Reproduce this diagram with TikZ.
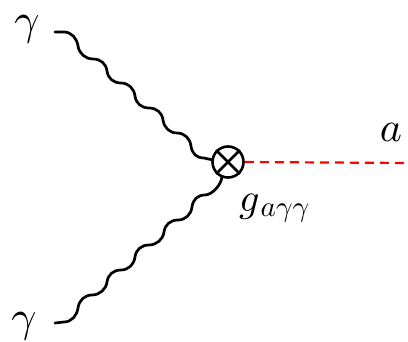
\documentclass[tikz,border=0pt]{standalone}
\usepackage{graphicx}
\usetikzlibrary{calc}
\begin{document}
\begin{tikzpicture}[x=1pt,y=-1pt,
  photon/.style={line width=2.7pt, line join=round, line cap=round},
  vertexnode/.style={circle, draw, line width=2.6pt, minimum size=31pt, inner sep=0pt},
  axion/.style={red, line width=2.2pt, dash pattern=on 9pt off 6pt},
  lbl/.style={inner sep=0pt}]
\useasboundingbox (0,0) rectangle (408,342);
\node[vertexnode] (v) at (228,162) {};
\draw[line width=2.6pt] (v.45) -- (v.225) (v.135) -- (v.315);
\node[lbl, anchor=base] (ga) at (27,35) {\scalebox{4.4}{$\gamma$}};
\node[lbl, anchor=base] (gb) at (24,332) {\scalebox{4.4}{$\gamma$}};
\node[lbl, anchor=base] (la) at (391,142) {\scalebox{4.2}{$a$}};
\node[lbl, anchor=base west] (lg) at (239,212)
  {\scalebox{4}{$g$}\kern1pt\raisebox{-5pt}{\scalebox{2.9}{$a\gamma\gamma$}}};
\coordinate (s1) at (55,32);
\coordinate (s2) at (55,323);
\coordinate (e) at (408,163);
% top photon
\draw[photon] (s1) -- (64,32)
  .. controls +(7.5,0) and +(-1,-7.5) .. (78,46)
  .. controls +(1,7.5) and +(-7.5,0) .. (93,59)
  .. controls +(7.5,0) and +(-1,-7.5) .. (107,71)
  .. controls +(1,7.5) and +(-7.5,0) .. (121,83)
  .. controls +(7.5,0) and +(-1,-7.5) .. (135,96)
  .. controls +(1,7.5) and +(-7.5,0) .. (149,108)
  .. controls +(7.5,0) and +(-1,-7.5) .. (163,120)
  .. controls +(1,7.5) and +(-7.5,0) .. (177,133)
  .. controls +(7.5,0) and +(-1,-7.5) .. (191,146)
  .. controls +(1,7.5) and +(-7.5,0) .. (204,158)
  -- (v.172);
% bottom photon
\draw[photon] (s2) -- (64,322)
  .. controls +(7.5,0) and +(-1,7.5) .. (78,308)
  .. controls +(1,-7.5) and +(-7.5,0) .. (92,295)
  .. controls +(7.5,0) and +(-1,7.5) .. (107,282)
  .. controls +(1,-7.5) and +(-7.5,0) .. (121,270)
  .. controls +(7.5,0) and +(-1,7.5) .. (135,257)
  .. controls +(1,-7.5) and +(-7.5,0) .. (149,245)
  .. controls +(7.5,0) and +(-1,7.5) .. (164,232)
  .. controls +(1,-7.5) and +(-7.5,0) .. (178,220)
  .. controls +(7.5,0) and +(-1,7.5) .. (192,207)
  .. controls +(1,-7.5) and +(-7.5,0) .. (205,195)
  .. controls +(7.5,0) and +(0,6) .. (v.248);
% axion line
\draw[axion] (v.east) -- (e);
\end{tikzpicture}
\end{document}
